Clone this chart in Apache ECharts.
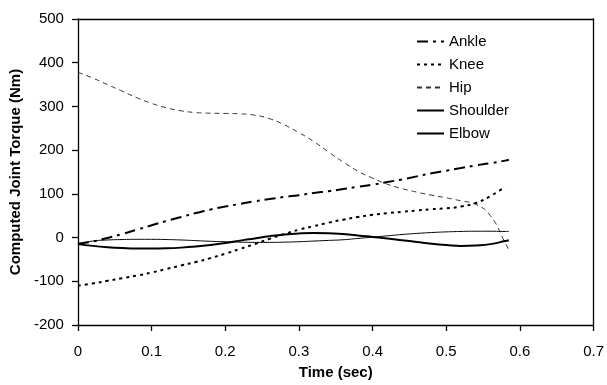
<!DOCTYPE html>
<html>
<head>
<meta charset="utf-8">
<script src="https://cdn.jsdelivr.net/npm/echarts@6/dist/echarts.min.js"></script>
<style>
  html, body { margin: 0; padding: 0; background: #fff; }
  #chart { width: 607px; height: 385px; }
</style>
</head>
<body>
<div id="chart"></div>
<script>
// time in seconds
const time = [0, 0.02, 0.04, 0.06, 0.08, 0.10, 0.12, 0.14, 0.16, 0.18, 0.20, 0.22, 0.24, 0.26, 0.28,
    0.30, 0.32, 0.34, 0.36, 0.38, 0.40, 0.42, 0.44, 0.46, 0.48, 0.50, 0.52, 0.54, 0.56, 0.58, 0.585];

const ankle = [-14, -9, -1, 8, 18, 28, 38, 47, 56, 64, 71, 77, 83, 88, 93,
    97, 102, 106, 111, 116, 121, 127, 133, 140, 147, 153, 159, 165, 170, 176, 178];
const knee = [-110, -105, -99, -93, -87, -80, -72, -64, -56, -47, -37, -26, -15, -3, 8,
    18, 26, 34, 41, 47, 52, 56, 59, 62, 65, 67, 71, 79, 95, 116, null];
const hip = [378, 365, 350, 335, 320, 307, 297, 290, 286, 284.5, 284, 283, 280, 272, 258,
    240, 220, 196, 173, 152, 136, 122, 112, 104, 97, 91, 84, 76, 50, -12, -28];
const shoulder = [-15, -19, -22, -24, -25, -25, -24.5, -23, -20.5, -17, -12.5, -7, -2, 3, 7,
    9.5, 10.5, 10, 8, 5, 1.5, -2, -6, -10, -14, -17, -19, -18, -15, -8, -6];
const elbow = [-15, -8, -5.5, -4.5, -4, -4, -4.5, -5.5, -7, -8.5, -9.5, -10.5, -11, -11, -10.5,
    -9.5, -8, -6.5, -5, -2, 1, 4, 7, 9.5, 11.5, 13, 14, 14.5, 14.5, 14, 14];

const chart = echarts.init(document.getElementById("chart"));

function pairs(vals) {
    return time.map((t, i) => [t, vals[i]]);
}

function line(name, vals, width, type, color) {
    return {
        name: name,
        type: "line",
        data: pairs(vals),
        symbol: "none",
        smooth: true,
        animation: false,
        lineStyle: { color: color || "#000", width: width, type: type },
        itemStyle: { color: color || "#000" },
    };
}

const font = "Liberation Sans, Arial, sans-serif";
const axisLineStyle = { color: "#000", width: 1.3 };
const tickStyle = { color: "#000", width: 1.3 };

// plain axis used only to draw the top / right frame line
function frameAxis(position, min, max) {
    return {
        type: "value",
        position: position,
        min: min,
        max: max,
        axisLine: { show: true, onZero: false, lineStyle: axisLineStyle },
        axisTick: { show: false },
        axisLabel: { show: false },
        splitLine: { show: false },
    };
}

chart.setOption({
    animation: false,
    textStyle: { fontFamily: font },
    grid: {
        left: 77,
        right: 12,
        top: 19,
        bottom: 56,
    },
    legend: {
        orient: "vertical",
        left: 411,
        top: 29,
        itemWidth: 27,
        itemHeight: 14,
        itemGap: 8,
        itemStyle: { opacity: 0 },
        textStyle: { fontFamily: font, fontSize: 15, color: "#000" },
        data: ["Ankle", "Knee", "Hip", "Shoulder", "Elbow"],
    },
    xAxis: [
        {
            type: "value",
            position: "bottom",
            min: 0,
            max: 0.7,
            interval: 0.1,
            name: "Time (sec)",
            nameLocation: "middle",
            nameGap: 40,
            nameTextStyle: { fontFamily: font, fontSize: 15, fontWeight: "bold", color: "#000" },
            axisLine: { show: true, onZero: false, lineStyle: axisLineStyle },
            axisTick: { show: true, inside: false, length: 6, lineStyle: tickStyle },
            axisLabel: { show: true, fontFamily: font, fontSize: 15, color: "#000", margin: 19,
                formatter: (v) => (v === 0 ? "0" : v.toFixed(1)) },
            splitLine: { show: false },
        },
        frameAxis("top", 0, 0.7),
    ],
    yAxis: [
        {
            type: "value",
            position: "left",
            min: -200,
            max: 500,
            interval: 100,
            name: "Computed Joint Torque (Nm)",
            nameLocation: "middle",
            nameGap: 49,
            nameTextStyle: { fontFamily: font, fontSize: 15, fontWeight: "bold", color: "#000" },
            axisLine: { show: true, onZero: false, lineStyle: axisLineStyle },
            axisTick: { show: true, inside: false, length: 6, lineStyle: tickStyle },
            axisLabel: { show: true, fontFamily: font, fontSize: 15, color: "#000", margin: 14 },
            splitLine: { show: false },
        },
        frameAxis("right", -200, 500),
    ],
    series: [
        line("Ankle", ankle, 2, [11, 5, 3, 5]),
        line("Knee", knee, 2, [3, 4]),
        line("Hip", hip, 1, [5, 4], "#333"),
        line("Shoulder", shoulder, 2, "solid"),
        line("Elbow", elbow, 1, "solid"),
    ],
});
</script>
</body>
</html>
